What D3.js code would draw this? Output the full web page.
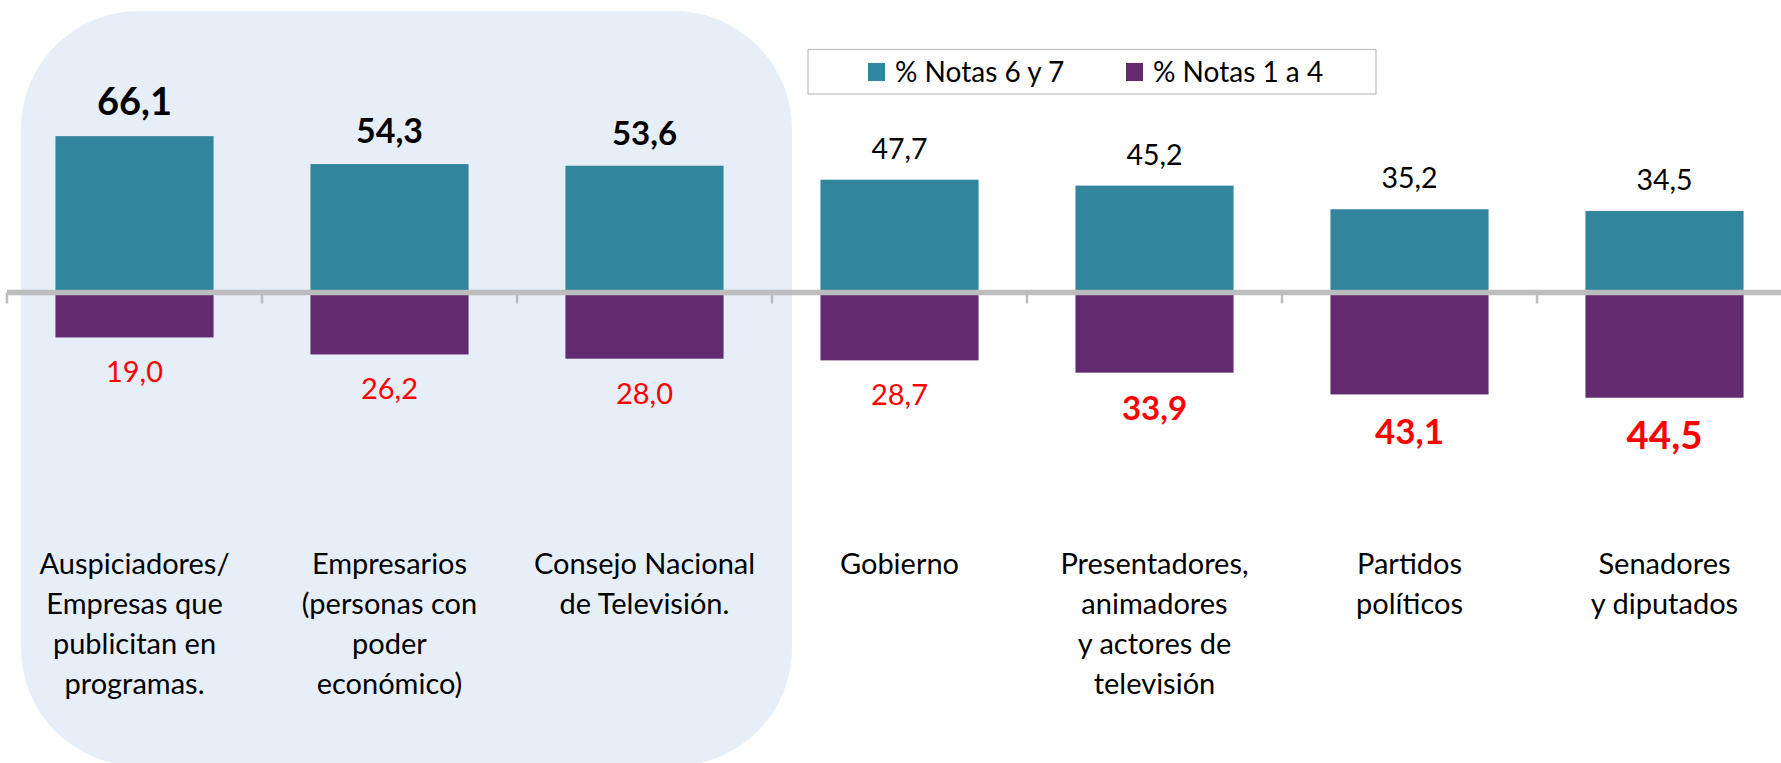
<!DOCTYPE html>
<html>
<head>
<meta charset="utf-8">
<script src="https://cdn.jsdelivr.net/npm/d3@7"></script>
<style>
  body { margin: 0; background: #fff; }
  svg { display: block; font-family: Lato, "Noto Sans", sans-serif; }
</style>
</head>
<body>
<div id="chart"></div>
<script>
// datos
var categorias = [
  ["Auspiciadores/", "Empresas que", "publicitan en", "programas."],
  ["Empresarios", "(personas con", "poder", "económico)"],
  ["Consejo Nacional", "de Televisión."],
  ["Gobierno"],
  ["Presentadores,", "animadores", "y actores de", "televisión"],
  ["Partidos", "políticos"],
  ["Senadores", "y diputados"]
];
var notasAltas = [66.1, 54.3, 53.6, 47.7, 45.2, 35.2, 34.5];
var notasBajas = [19.0, 26.2, 28.0, 28.7, 33.9, 43.1, 44.5];
var series = ["% Notas 6 y 7", "% Notas 1 a 4"];
var colores = ["#31859c", "#632b6f"];

// estilo de etiquetas (tamaño / negrita)
var estiloAlto = [[38, "bold"], [34, "bold"], [33, "bold"], [28.5, "normal"], [28.5, "normal"], [28.5, "normal"], [28.5, "normal"]];
var estiloBajo = [[29, "normal"], [29, "normal"], [29, "normal"], [29, "normal"], [33, "bold"], [35, "bold"], [38.5, "bold"]];

var W = 1781, H = 763;
var svg = d3.select('#chart').append('svg')
  .attr('width', W)
  .attr('height', H);

var fmt = d3.formatLocale({decimal: ",", thousands: ".", grouping: [3], currency: ["$", ""]}).format(".1f");

var x = d3.scaleBand().domain(d3.range(categorias.length))
  .range([7, 7 + 7 * 255])
  .paddingInner(0.38)
  .paddingOuter(0.19);

var y = d3.scaleLinear().domain([-50, 70]).range([292.5 + 50 * 2.365, 292.5 - 70 * 2.365]);

// fondo redondeado
svg.append('rect')
  .attr('x', 21).attr('y', 11)
  .attr('width', 771).attr('height', 755)
  .attr('rx', 118).attr('ry', 118)
  .style('fill', '#e6eef8');

// barras positivas
svg.selectAll('rect.alto').data(notasAltas).join('rect')
  .attr('class', 'alto')
  .attr('x', (d, i) => x(i))
  .attr('width', x.bandwidth())
  .attr('y', d => y(d))
  .attr('height', d => y(0) - y(d))
  .style('fill', colores[0]);

// barras negativas
svg.selectAll('rect.bajo').data(notasBajas).join('rect')
  .attr('class', 'bajo')
  .attr('x', (d, i) => x(i))
  .attr('width', x.bandwidth())
  .attr('y', y(0))
  .attr('height', d => y(-d) - y(0))
  .style('fill', colores[1]);

// eje
svg.append('line')
  .attr('x1', 7).attr('x2', W)
  .attr('y1', y(0)).attr('y2', y(0))
  .style('stroke', '#bdbdbd')
  .style('stroke-width', 5.5);

svg.selectAll('line.tick').data(d3.range(categorias.length + 1)).join('line')
  .attr('class', 'tick')
  .attr('x1', i => 7 + i * x.step())
  .attr('x2', i => 7 + i * x.step())
  .attr('y1', y(0))
  .attr('y2', y(0) + 11)
  .style('stroke', '#bdbdbd')
  .style('stroke-width', 2.5);

// etiquetas arriba
svg.selectAll('text.alto').data(notasAltas).join('text')
  .attr('class', 'alto')
  .attr('x', (d, i) => x(i) + x.bandwidth() / 2)
  .attr('y', d => y(d) - 21)
  .attr('text-anchor', 'middle')
  .style('font-size', (d, i) => estiloAlto[i][0] + 'px')
  .style('font-weight', (d, i) => estiloAlto[i][1])
  .style('fill', '#000')
  .text(d => fmt(d));

// etiquetas abajo
svg.selectAll('text.bajo').data(notasBajas).join('text')
  .attr('class', 'bajo')
  .attr('x', (d, i) => x(i) + x.bandwidth() / 2)
  .attr('y', (d, i) => y(-d) + 24 + 0.72 * estiloBajo[i][0])
  .attr('text-anchor', 'middle')
  .style('font-size', (d, i) => estiloBajo[i][0] + 'px')
  .style('font-weight', (d, i) => estiloBajo[i][1])
  .style('fill', '#ff0000')
  .text(d => fmt(d));

// categorias
var cat = svg.selectAll('text.cat').data(categorias).join('text')
  .attr('class', 'cat')
  .attr('text-anchor', 'middle')
  .style('font-size', '29px')
  .style('fill', '#000');
cat.selectAll('tspan').data((d, i) => d.map(t => ({t: t, i: i}))).join('tspan')
  .attr('x', d => x(d.i) + x.bandwidth() / 2)
  .attr('y', (d, j) => 574 + j * 40)
  .text(d => d.t);

// leyenda
var ley = svg.append('g');
ley.append('rect')
  .attr('x', 808).attr('y', 49.5)
  .attr('width', 568).attr('height', 44.5)
  .style('fill', '#fff')
  .style('stroke', '#bfbfbf')
  .style('stroke-width', 1.2);
var lx = [868, 1126];
series.forEach(function (s, i) {
  ley.append('rect')
    .attr('x', lx[i]).attr('y', 63)
    .attr('width', 17).attr('height', 18)
    .style('fill', colores[i]);
  ley.append('text')
    .attr('x', lx[i] + 27).attr('y', 82)
    .style('font-size', '28px')
    .style('fill', '#000')
    .text(s);
});
</script>
</body>
</html>
